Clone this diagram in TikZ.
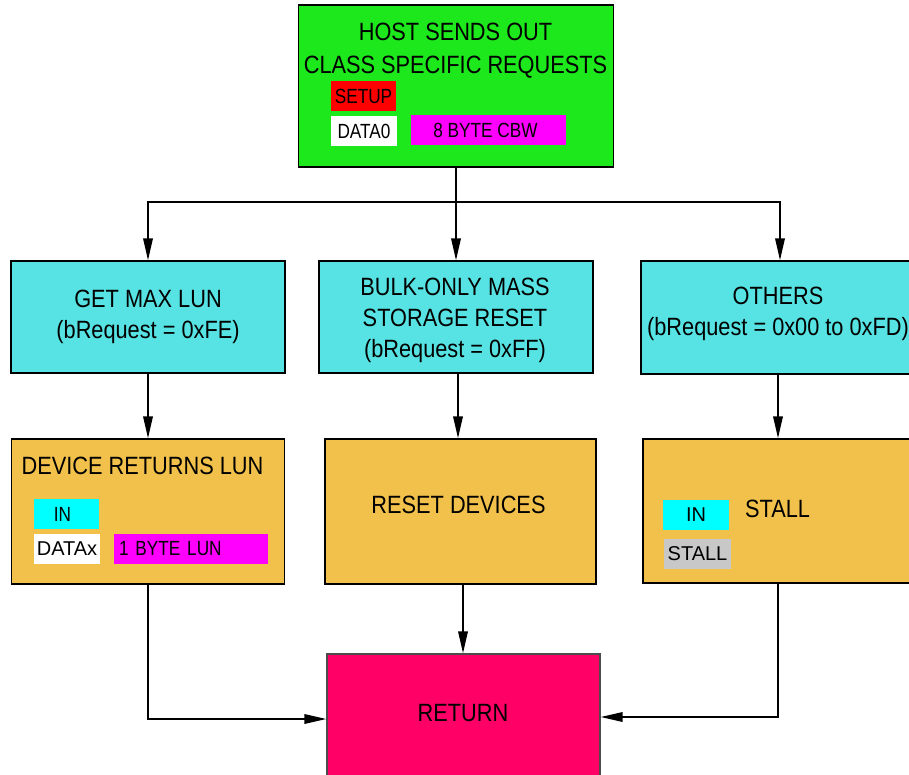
\documentclass[tikz,border=0pt]{standalone}
\usepackage{fontspec}
\setmainfont{Liberation Sans}
\newfontfamily\condsans[FakeStretch=0.87]{Liberation Sans}
\newfontfamily\tagsans[FakeStretch=0.84]{Liberation Sans}
\usetikzlibrary{arrows.meta}

\definecolor{hostgreen}{HTML}{1CE81C}
\definecolor{reqcyan}{HTML}{57E3E3}
\definecolor{actorange}{HTML}{F2C14B}
\definecolor{retpink}{HTML}{FF0066}
\definecolor{pktred}{HTML}{FF0000}
\definecolor{pktmagenta}{HTML}{FF00FF}
\definecolor{pktcyan}{HTML}{00FFFF}
\definecolor{pktgray}{HTML}{C8C8C8}

\begin{document}
\begin{tikzpicture}[x=1pt,y=-1pt,
  box/.style={draw=black, line width=1.3pt, inner sep=0pt, align=center,
              font=\fontsize{25}{31}\selectfont\condsans},
  title/.style={inner sep=0pt, align=center, font=\fontsize{25}{31}\selectfont\condsans},
  tag/.style={inner sep=0pt, minimum height=30pt, font=\fontsize{20.5}{22}\selectfont\tagsans},
  tagwide/.style={tag, font=\fontsize{20}{22}\selectfont\rmfamily},
  wire/.style={line width=1.8pt},
  link/.style={wire, -{Triangle[length=22pt,width=9.5pt]}}]
\useasboundingbox (0,0) rectangle (909,775);
\clip (0,0) rectangle (909,775);

% top: class specific request
\node[box, fill=hostgreen, minimum width=315pt, minimum height=162pt] (host) at (456,86) {};
\node[title, font=\fontsize{25}{33}\selectfont\condsans] (hosttitle) at (455.5,50.5)
  {HOST SENDS OUT\\CLASS SPECIFIC REQUESTS};
\node[tag, fill=pktred, minimum width=65pt] (setup) at (363.5,96) {SETUP};
\node[tag, fill=white, minimum width=66pt] (data0) at (364,131) {DATA0};
\node[tag, fill=pktmagenta, minimum width=155pt] (cbw) at (488.5,130) {\hspace*{-6pt}8 BYTE CBW};

% request types
\node[box, fill=reqcyan, minimum width=274pt, minimum height=112pt] (getmax) at (148,317)
  {GET MAX LUN\\(bRequest = 0xFE)};
\node[box, fill=reqcyan, minimum width=274pt, minimum height=112pt] (bulk) at (456,317) {};
\node[title] (bulktext) at (455,320.5) {BULK-ONLY MASS\\STORAGE RESET\\(bRequest = 0xFF)};
\node[box, fill=reqcyan, minimum width=274pt, minimum height=113pt] (others) at (778,317.5) {};
\node[title] (otherstext) at (778,314) {OTHERS\\(bRequest = 0x00 to 0xFD)};

% device actions
\node[box, fill=actorange, minimum width=273pt, minimum height=145pt] (devret) at (148,511.5) {};
\node[title] (devrettext) at (142.5,466) {DEVICE RETURNS LUN};
\node[tag, fill=pktcyan, minimum width=65pt] (inlun) at (66.5,514) {\hspace*{-8pt}IN};
\node[tagwide, fill=white, minimum width=66pt] (datax) at (67,549) {DATAx};
\node[tag, fill=pktmagenta, minimum width=154pt, text width=144pt, align=left] (lunbyte) at (191,549) {1 BYTE LUN};

\node[box, fill=actorange, minimum width=271pt, minimum height=145pt] (reset) at (460.5,511.5) {};
\node[title] (resettext) at (458.5,504.5) {RESET DEVICES};

\node[box, fill=actorange, minimum width=274pt, minimum height=144pt] (stallbox) at (780,511) {};
\node[tagwide, fill=pktcyan, minimum width=66pt] (install) at (696,515) {IN};
\node[title] (stalltext) at (777.5,509) {STALL};
\node[tagwide, fill=pktgray, minimum width=67pt] (stallpkt) at (697.5,554) {STALL};

% end
\node[box, draw=black!70, fill=retpink, minimum width=273pt, minimum height=126pt] (ret) at (463.5,717) {};
\node[title] (rettext) at (463,713) {RETURN};

% connectors
\coordinate (split) at (456,202);
\draw[wire] (host.south) -- (split);
\draw[link] (split) -| (getmax.north);
\draw[link] (split) -- (bulk.north);
\draw[link] (split) -| ([xshift=2pt]others.north);

\draw[link] (getmax.south) -- (getmax.south |- devret.north);
\draw[link] ([xshift=2pt]bulk.south) -- ([xshift=2pt]bulk.south |- reset.north);
\draw[link] (others.south) -- (others.south |- stallbox.north);

\draw[link] (devret.south) |- ([yshift=-2pt]ret.west);
\draw[link] ([xshift=2.5pt]reset.south) -- ([xshift=2.5pt]reset.south |- ret.north);
\draw[link] ([xshift=-2pt]stallbox.south) |- (ret.east);
\end{tikzpicture}
\end{document}
